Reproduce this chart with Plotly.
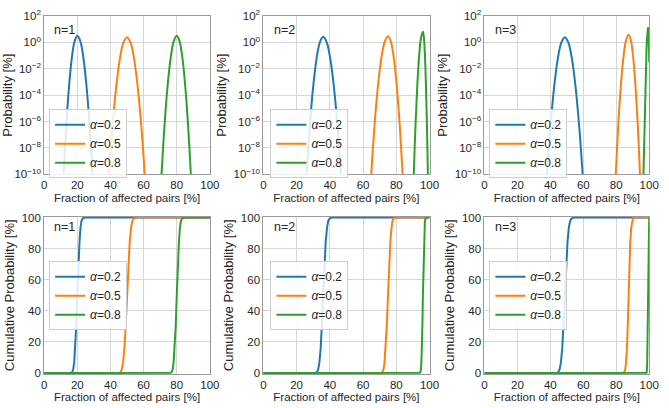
import plotly.graph_objects as go
from plotly.subplots import make_subplots

# ---------------- data ----------------
series_names = ["<i>α</i>=0.2", "<i>α</i>=0.5", "<i>α</i>=0.8"]
panel_labels = ["n=1", "n=2", "n=3"]
x_tick_vals = [0, 20, 40, 60, 80, 100]
log_tick_vals = [1e2, 1e0, 1e-2, 1e-4, 1e-6, 1e-8, 1e-10]
log_tick_text = ["10<sup>2</sup>", "10<sup>0</sup>", "10<sup>−2</sup>", "10<sup>−4</sup>",
                 "10<sup>−6</sup>", "10<sup>−8</sup>", "10<sup>−10</sup>"]
lin_tick_vals = [0, 20, 40, 60, 80, 100]

# probability [%] curves (top row)
n1_a02_x = [10.87, 11.7, 13.36, 15.02, 16.68, 18.34, 20.0, 21.84, 23.68, 25.52, 27.36, 29.2, 30.12]
n1_a02_y = [6e-13, 1e-10, 6.0e-7, 5.2e-4, 0.066, 1.2, 3.16, 1.2, 0.066, 5.2e-4, 6.0e-7, 1e-10, 6e-13]
n1_a05_x = [38.01, 39.1, 41.28, 43.46, 45.64, 47.82, 50.0, 52.14, 54.28, 56.42, 58.56, 60.7, 61.77]
n1_a05_y = [6.6e-13, 1e-10, 5.5e-7, 4.5e-4, 0.0545, 0.964, 2.51, 0.964, 0.0545, 4.5e-4, 5.5e-7, 1e-10, 6.6e-13]
n1_a08_x = [69.88, 70.8, 72.64, 74.48, 76.32, 78.16, 80.0, 81.7, 83.4, 85.1, 86.8, 88.5, 89.35]
n1_a08_y = [6e-13, 1e-10, 6.0e-7, 5.2e-4, 0.066, 1.2, 3.16, 1.2, 0.066, 5.2e-4, 6.0e-7, 1e-10, 6e-13]

n2_a02_x = [25.0, 26.0, 28.0, 30.0, 32.0, 34.0, 36.0, 38.14, 40.28, 42.42, 44.56, 46.7, 47.77]
n2_a02_y = [6.5e-13, 1e-10, 5.6e-7, 4.67e-4, 0.0566, 1.01, 2.63, 1.01, 0.0566, 4.67e-4, 5.6e-7, 1e-10, 6.5e-13]
n2_a05_x = [63.89, 64.9, 66.92, 68.94, 70.96, 72.98, 75.0, 76.76, 78.52, 80.28, 82.04, 83.8, 84.68]
n2_a05_y = [6.3e-13, 1e-10, 5.8e-7, 4.94e-4, 0.0611, 1.10, 2.88, 1.10, 0.0611, 4.94e-4, 5.8e-7, 1e-10, 6.3e-13]
n2_a08_x = [89.95, 90.5, 91.6, 92.7, 93.8, 94.9, 96.0, 96.6, 97.2, 97.8, 98.4, 99.0, 99.3]
n2_a08_y = [5.4e-13, 1e-10, 7.7e-7, 8.2e-4, 0.118, 2.33, 6.31, 2.33, 0.118, 8.2e-4, 7.7e-7, 1e-10, 5.4e-13]

n3_a02_x = [36.92, 38.0, 40.16, 42.32, 44.48, 46.64, 48.8, 50.96, 53.12, 55.28, 57.44, 59.6, 60.68]
n3_a02_y = [6.6e-13, 1e-10, 5.5e-7, 4.5e-4, 0.0545, 0.964, 2.51, 0.964, 0.0545, 4.5e-4, 5.5e-7, 1e-10, 6.6e-13]
n3_a05_x = [78.92, 79.7, 81.26, 82.82, 84.38, 85.94, 87.5, 88.88, 90.26, 91.64, 93.02, 94.4, 95.09]
n3_a05_y = [6e-13, 1e-10, 6.4e-7, 5.9e-4, 0.0771, 1.44, 3.80, 1.44, 0.0771, 5.9e-4, 6.4e-7, 1e-10, 6e-13]
n3_a08_x = [96.4, 96.6, 96.8, 97.0, 97.2, 97.4, 97.6, 97.8, 98.0, 98.2, 98.4, 98.6, 98.8,
            98.9, 99.0, 99.1, 99.2, 99.3, 99.4, 99.5, 99.6, 99.7, 99.8, 99.9, 100.0]
n3_a08_y = [2.3e-11, 4.6e-10, 8.4e-9, 1.35e-7, 1.89e-6, 2.29e-5, 2.37e-4, 2.08e-3, 0.0152, 0.0912, 0.441, 1.67, 4.78,
            7.2, 9.9, 12.4, 14.0, 14.0, 12.2, 9.14, 5.69, 2.83, 1.06, 0.262, 0.0325]

# cumulative probability [%] curves (bottom row)
cdf_levels = [0, 0.02, 0.14, 0.62, 2.28, 6.68, 15.87, 30.85, 50, 69.15, 84.13, 93.32, 97.72, 99.38, 99.87, 99.98, 100]
c1_a02_x = [0, 15.6, 16.2, 16.9, 17.5, 18.1, 18.7, 19.4, 20.0, 20.6, 21.3, 21.9, 22.5, 23.2, 23.8, 24.4, 100]
c1_a05_x = [0, 44.5, 45.3, 46.1, 46.8, 47.6, 48.4, 49.2, 50.0, 50.8, 51.6, 52.4, 53.2, 54.0, 54.7, 55.5, 100]
c1_a08_x = [0, 75.6, 76.2, 76.9, 77.5, 78.1, 78.7, 79.4, 80.0, 80.6, 81.3, 81.9, 82.5, 83.2, 83.8, 84.4, 100]
c2_a02_x = [0, 30.7, 31.4, 32.2, 33.0, 33.7, 34.5, 35.2, 36.0, 36.8, 37.5, 38.3, 39.0, 39.8, 40.6, 41.3, 100]
c2_a05_x = [0, 70.2, 70.9, 71.6, 72.3, 72.9, 73.6, 74.3, 75.0, 75.7, 76.4, 77.1, 77.7, 78.4, 79.1, 79.8, 100]
c2_a08_x = [0, 93.8, 94.1, 94.5, 94.8, 95.1, 95.4, 95.7, 96.0, 96.3, 96.6, 96.9, 97.2, 97.6, 97.9, 98.2, 100]
c3_a02_x = [0, 43.3, 44.1, 44.8, 45.6, 46.4, 47.2, 48.0, 48.8, 49.6, 50.4, 51.2, 52.0, 52.8, 53.5, 54.3, 100]
c3_a05_x = [0, 83.8, 84.3, 84.9, 85.4, 85.9, 86.5, 87.0, 87.5, 88.0, 88.5, 89.1, 89.6, 90.1, 90.7, 91.2, 100]
c3_a08_x = [0, 98.2, 98.4, 98.5, 98.6, 98.8, 98.9, 99.1, 99.2, 99.3, 99.5, 99.6, 99.8, 99.9, 100.0, 100.0, 100]

top_curves = [
    [(n1_a02_x, n1_a02_y), (n1_a05_x, n1_a05_y), (n1_a08_x, n1_a08_y)],
    [(n2_a02_x, n2_a02_y), (n2_a05_x, n2_a05_y), (n2_a08_x, n2_a08_y)],
    [(n3_a02_x, n3_a02_y), (n3_a05_x, n3_a05_y), (n3_a08_x, n3_a08_y)],
]
bottom_curves = [
    [c1_a02_x, c1_a05_x, c1_a08_x],
    [c2_a02_x, c2_a05_x, c2_a08_x],
    [c3_a02_x, c3_a05_x, c3_a08_x],
]

# ---------------- styling ----------------
W, H = 669, 408
colors = ["#1f77b4", "#ff7f0e", "#2ca02c"]
FONT = "Liberation Sans, Arial, sans-serif"
TXT = "#262626"
col_px = [(42, 211), (265.5, 435), (491, 659)]
row_px = [(8.3, 172.3), (216, 379)]
legend_x_px = [47, 272.7, 496]
legend_y_px = [140.5, 298]

fig = make_subplots(rows=2, cols=3)

for r in range(2):
    for c in range(3):
        idx = r * 3 + c
        leg = "legend" if idx == 0 else f"legend{idx + 1}"
        for s in range(3):
            if r == 0:
                xs, ys = top_curves[c][s]
                shape = "linear" if len(xs) > 20 else "spline"
            else:
                xs, ys = bottom_curves[c][s], cdf_levels
                shape = "linear"
            fig.add_trace(go.Scatter(
                x=xs, y=ys, mode="lines", name=series_names[s],
                line=dict(color=colors[s], width=2, shape=shape),
                legend=leg, showlegend=True, hoverinfo="skip"),
                row=r + 1, col=c + 1)

        xa = "xaxis" if idx == 0 else f"xaxis{idx + 1}"
        ya = "yaxis" if idx == 0 else f"yaxis{idx + 1}"
        x0, x1 = col_px[c]
        y0, y1 = row_px[r]
        axis_common = dict(showline=True, mirror=True, linecolor="#9a9a9a", linewidth=1,
                           showgrid=True, gridcolor="#d6d6d6", gridwidth=1, zeroline=False,
                           ticks="", tickfont=dict(family=FONT, size=11.5, color=TXT))
        fig.layout[xa].update(domain=[x0 / W, x1 / W], range=[0, 100], tickvals=x_tick_vals,
                              title=dict(text="Fraction of affected pairs [%]",
                                         font=dict(family=FONT, size=11.5, color=TXT), standoff=3),
                              **axis_common)
        if r == 0:
            fig.layout[ya].update(domain=[1 - y1 / H, 1 - y0 / H], type="log", range=[-10, 2],
                                  tickvals=log_tick_vals, ticktext=log_tick_text,
                                  title=dict(text="Probability [%]",
                                             font=dict(family=FONT, size=13, color=TXT), standoff=4),
                                  **axis_common)
        else:
            fig.layout[ya].update(domain=[1 - y1 / H, 1 - y0 / H], range=[-0.6, 100.6],
                                  tickvals=lin_tick_vals,
                                  title=dict(text="Cumulative Probability [%]",
                                             font=dict(family=FONT, size=13, color=TXT), standoff=4),
                                  **axis_common)

        fig.add_annotation(text=panel_labels[c], xref=f"{xa.replace('axis', '')} domain",
                           yref=f"{ya.replace('axis', '')} domain",
                           x=0.05, y=(0.912 if r == 0 else 0.935), xanchor="left", yanchor="middle",
                           showarrow=False, font=dict(family=FONT, size=12.5, color=TXT))

        fig.layout[leg] = dict(x=legend_x_px[c] / W, y=1 - legend_y_px[r] / H,
                               xanchor="left", yanchor="middle",
                               bgcolor="rgba(255,255,255,0.85)", bordercolor="#cccccc", borderwidth=1,
                               font=dict(family=FONT, size=12, color=TXT),
                               tracegroupgap=0)

fig.update_layout(width=W, height=H, margin=dict(l=0, r=0, t=0, b=0),
                  paper_bgcolor="white", plot_bgcolor="white",
                  font=dict(family=FONT, color=TXT))

fig.write_html("out.html")
